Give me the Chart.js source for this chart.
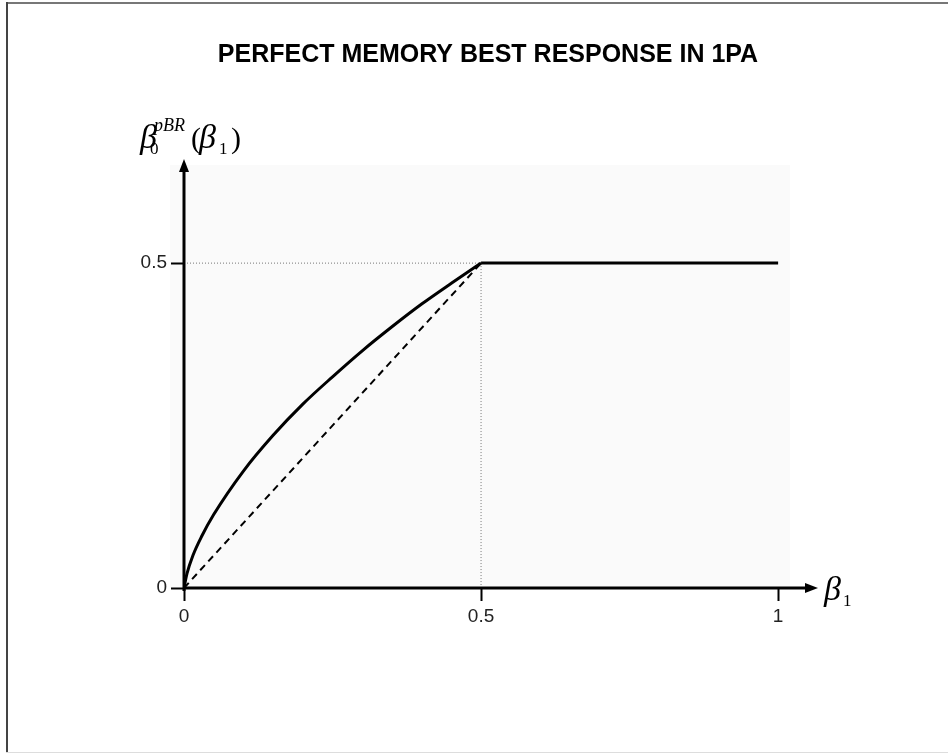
<!DOCTYPE html>
<html lang="en">
<head>
    <meta charset="UTF-8">
    <title>Perfect memory best response in 1PA</title>
    <script src="https://cdn.jsdelivr.net/npm/chart.js"></script>
    <style>
        body { margin: 0; background: #fff; }
        #wrap { width: 948px; height: 753px; }
    </style>
</head>
<body>
<div id="wrap">
    <canvas id="bestResponse" width="948" height="753"></canvas>
</div>

<script>
    // values
    const xTicks = [0, 0.5, 1];
    const yTicks = [0, 0.5];

    // perfect memory best response, beta0(beta1), up to the kink
    const curveX = [0, 0.005, 0.015, 0.03, 0.05, 0.1, 0.15, 0.2, 0.25, 0.3, 0.35, 0.4, 0.45, 0.5];
    const curveY = [0, 0.022, 0.05, 0.08, 0.113, 0.18, 0.235, 0.283, 0.325, 0.365, 0.402, 0.437, 0.469, 0.5];

    // flat part after the kink
    const flatX = [0.5, 1];
    const flatY = [0.5, 0.5];

    // 45 degree reference (dashed)
    const diagX = [0, 0.5];
    const diagY = [0, 0.5];

    // dotted guides to the kink
    const guideX = [0, 0.5, 0.5];
    const guideY = [0.5, 0.5, 0];

    const pts = (xs, ys) => xs.map((x, i) => ({ x: x, y: ys[i] }));

    const titleText = 'PERFECT MEMORY BEST RESPONSE IN 1PA';

    const pagePlugin = {
        id: 'page',
        beforeDraw(chart) {
            const ctx = chart.ctx;
            const a = chart.chartArea;
            ctx.save();
            ctx.fillStyle = '#fff';
            ctx.fillRect(0, 0, chart.width, chart.height);
            // faint plot background
            ctx.fillStyle = '#fafafa';
            ctx.fillRect(a.left - 14, a.top, a.right - a.left + 14, a.bottom - a.top);
            // frame of the picture
            ctx.fillStyle = '#777';
            ctx.fillRect(6, 2, chart.width - 6, 2);
            ctx.fillStyle = '#444';
            ctx.fillRect(6, 2, 2, chart.height - 2);
            ctx.fillStyle = '#ddd';
            ctx.fillRect(6, chart.height - 1, chart.width - 6, 1);
            ctx.restore();
        },
        afterDatasetsDraw(chart) {
            const ctx = chart.ctx;
            const xs = chart.scales.x, ys = chart.scales.y;
            const x0 = xs.getPixelForValue(0), y0 = ys.getPixelForValue(0);
            ctx.save();
            ctx.strokeStyle = '#000';
            ctx.fillStyle = '#000';
            ctx.lineWidth = 3;
            // y axis with arrow
            ctx.beginPath();
            ctx.moveTo(x0, y0 + 3);
            ctx.lineTo(x0, 172);
            ctx.stroke();
            ctx.beginPath();
            ctx.moveTo(x0, 159);
            ctx.lineTo(x0 - 5, 172);
            ctx.lineTo(x0 + 5, 172);
            ctx.closePath();
            ctx.fill();
            // x axis with arrow
            ctx.beginPath();
            ctx.moveTo(x0 - 1, y0);
            ctx.lineTo(806, y0);
            ctx.stroke();
            ctx.beginPath();
            ctx.moveTo(818, y0);
            ctx.lineTo(805, y0 - 5);
            ctx.lineTo(805, y0 + 5);
            ctx.closePath();
            ctx.fill();
            ctx.restore();
        },
        afterDraw(chart) {
            const ctx = chart.ctx;
            ctx.save();
            ctx.fillStyle = '#000';
            ctx.textBaseline = 'alphabetic';
            // title
            ctx.font = 'bold 25px "Liberation Sans", Arial, sans-serif';
            ctx.textAlign = 'center';
            ctx.fillText(titleText, 488, 62);

            ctx.textAlign = 'left';
            const serifI = (s) => 'italic ' + s + 'px "Liberation Serif", "Times New Roman", serif';
            const serif = (s) => s + 'px "Liberation Serif", "Times New Roman", serif';
            // y axis label: beta0^pBR(beta1)
            ctx.font = serifI(34);
            ctx.fillText('\u03B2', 140, 148);
            ctx.font = serif(17);
            ctx.fillText('0', 150, 154);
            ctx.font = serifI(18);
            ctx.fillText('pBR', 154, 131);
            ctx.font = serif(30);
            ctx.fillText('(', 191, 148);
            ctx.font = serifI(34);
            ctx.fillText('\u03B2', 199, 148);
            ctx.font = serif(17);
            ctx.fillText('1', 219, 154);
            ctx.font = serif(30);
            ctx.fillText(')', 231, 148);
            // x axis label: beta1
            ctx.font = serifI(34);
            ctx.fillText('\u03B2', 824, 600);
            ctx.font = serif(17);
            ctx.fillText('1', 843, 606);
            ctx.restore();
        }
    };

    const tickFont = { family: '"Liberation Sans", Arial, sans-serif', size: 19 };

    new Chart(document.getElementById('bestResponse'), {
        type: 'scatter',
        data: {
            datasets: [
                {
                    label: 'best response',
                    data: pts(curveX, curveY),
                    showLine: true,
                    borderColor: '#000',
                    borderWidth: 3,
                    pointRadius: 0,
                    cubicInterpolationMode: 'monotone',
                    order: 1
                },
                {
                    label: 'flat',
                    data: pts(flatX, flatY),
                    showLine: true,
                    borderColor: '#000',
                    borderWidth: 3,
                    pointRadius: 0,
                    borderCapStyle: 'butt',
                    order: 1
                },
                {
                    label: 'diagonal',
                    data: pts(diagX, diagY),
                    showLine: true,
                    borderColor: '#000',
                    borderWidth: 2,
                    borderDash: [7, 5],
                    pointRadius: 0,
                    order: 2
                },
                {
                    label: 'guides',
                    data: pts(guideX, guideY),
                    showLine: true,
                    borderColor: '#777',
                    borderWidth: 1,
                    borderDash: [1, 2],
                    pointRadius: 0,
                    order: 3
                }
            ]
        },
        options: {
            responsive: false,
            animation: false,
            events: [],
            layout: { padding: { left: 124, right: 158, top: 165, bottom: 125 } },
            plugins: {
                legend: { display: false },
                tooltip: { enabled: false },
                title: { display: false }
            },
            scales: {
                x: {
                    type: 'linear',
                    min: 0,
                    max: 1.02,
                    afterFit: (s) => { s.height = 40; },
                    afterBuildTicks: (s) => { s.ticks = xTicks.map(v => ({ value: v })); },
                    border: { display: false },
                    grid: {
                        drawOnChartArea: false,
                        drawTicks: true,
                        tickLength: 13,
                        tickWidth: 2,
                        tickColor: '#000'
                    },
                    ticks: {
                        autoSkip: false,
                        maxRotation: 0,
                        padding: 4,
                        color: '#222',
                        font: tickFont,
                        callback: (v) => String(v)
                    }
                },
                y: {
                    type: 'linear',
                    min: 0,
                    max: 0.651,
                    afterFit: (s) => { s.width = 60; },
                    afterBuildTicks: (s) => { s.ticks = yTicks.map(v => ({ value: v })); },
                    border: { display: false },
                    grid: {
                        drawOnChartArea: false,
                        drawTicks: true,
                        tickLength: 13,
                        tickWidth: 2,
                        tickColor: '#000'
                    },
                    ticks: {
                        padding: 4,
                        color: '#222',
                        font: tickFont,
                        callback: (v) => String(v)
                    }
                }
            }
        },
        plugins: [pagePlugin]
    });
</script>
</body>
</html>
